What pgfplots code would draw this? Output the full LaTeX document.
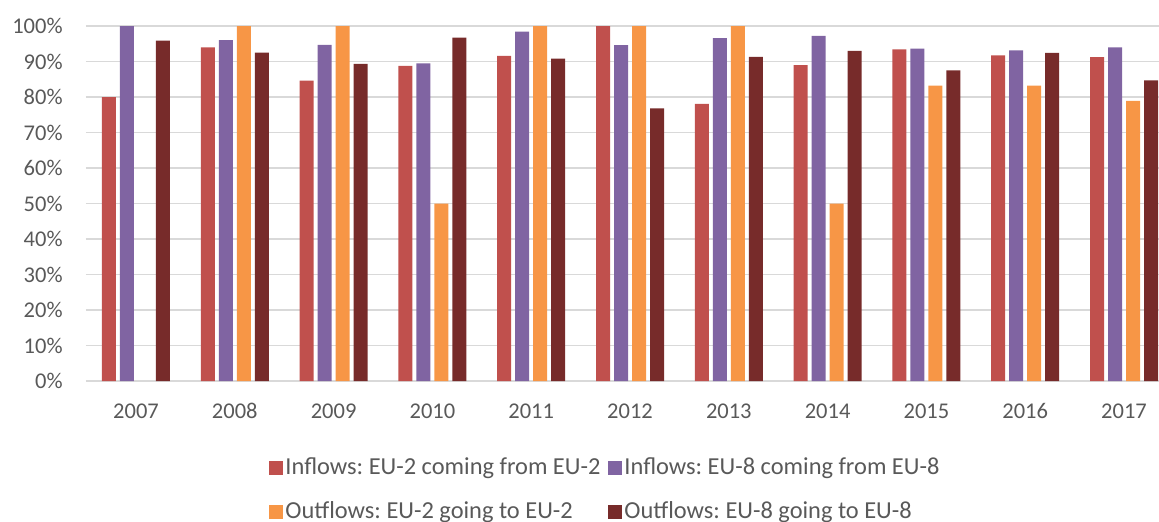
\documentclass[border=0pt]{standalone}
\usepackage{fontspec}
\setmainfont{Carlito}
\usepackage{pgfplots}
\pgfplotsset{compat=1.18}
\definecolor{cR}{HTML}{C0504D}
\definecolor{cP}{HTML}{8064A2}
\definecolor{cO}{HTML}{F79646}
\definecolor{cD}{HTML}{772B2A}
\definecolor{gridc}{HTML}{D9D9D9}
\definecolor{txt}{HTML}{595959}
\frenchspacing
\begin{document}
\begin{tikzpicture}
\useasboundingbox (-43pt,-70pt) rectangle (536.5pt,190.5pt);
\begin{axis}[
  at={(0pt,0pt)}, anchor=south west,
  scale only axis, width=536.5pt, height=177.5pt,
  xmin=-0.506, xmax=10.354, ymin=0, ymax=100,
  ybar=2pt, bar width=7pt,
  xtick={0,...,10},
  xticklabels={2007,2008,2009,2010,2011,2012,2013,2014,2015,2016,2017},
  ytick={0,10,...,100},
  yticklabel={\pgfmathprintnumber{\tick}\%},
  /pgf/number format/assume math mode=true,
  major tick length=0pt,
  ymajorgrids, grid style={draw=gridc, line width=0.75pt},
  axis x line*=bottom, axis y line*=left,
  x axis line style={draw=gridc, line width=0.75pt, -},
  y axis line style={draw=none},
  tick label style={font=\fontsize{11.25pt}{13pt}\selectfont, text=txt},
  yticklabel style={inner sep=0pt, anchor=east, xshift=-11.5pt},
  xticklabel style={inner sep=0pt, anchor=north, yshift=-11pt},
  legend image code/.code={\fill[#1,draw=none] (0pt,-3.5pt) rectangle (7pt,3.5pt);},
  legend columns=2,
  legend cell align=left,
  legend style={at={(0.1706,-0.209)}, anchor=north west, draw=none, fill=none,
    font=\fontsize{12.2pt}{13pt}\selectfont, text=txt, inner sep=0pt,
    row sep=10.2pt,
    /tikz/every even column/.append style={column sep=3pt},
    nodes={inner sep=1pt}},
]
\addplot[fill=cR, draw=none] coordinates {(0,80) (1,94.0) (2,84.6) (3,88.8) (4,91.6) (5,100) (6,78.1) (7,89.0) (8,93.4) (9,91.7) (10,91.2)};
\addplot[fill=cP, draw=none] coordinates {(0,100) (1,96.0) (2,94.7) (3,89.5) (4,98.4) (5,94.6) (6,96.6) (7,97.2) (8,93.6) (9,93.1) (10,94.0)};
\addplot[fill=cO, draw=none] coordinates {(1,100) (2,100) (3,50) (4,100) (5,100) (6,100) (7,50) (8,83.2) (9,83.2) (10,78.9)};
\addplot[fill=cD, draw=none] coordinates {(0,95.9) (1,92.5) (2,89.3) (3,96.7) (4,90.8) (5,76.8) (6,91.3) (7,93.0) (8,87.5) (9,92.4) (10,84.7)};
\legend{Inflows: EU-2 coming from EU-2, Inflows: EU-8 coming from EU-8, Outflows: EU-2 going to EU-2, Outflows: EU-8 going to EU-8}
\end{axis}
\end{tikzpicture}
\end{document}
